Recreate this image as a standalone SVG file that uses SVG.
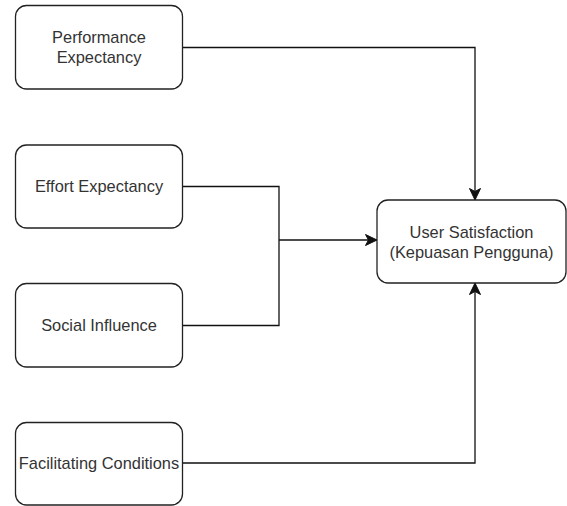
<svg xmlns="http://www.w3.org/2000/svg" width="567" height="506" viewBox="0 0 567 506">
  <style>
    .box { fill: #ffffff; stroke: #222222; stroke-width: 1.3; }
    .lbl { font-family: "Liberation Sans", Arial, sans-serif; font-size: 16.4px; fill: #333333; text-anchor: middle; }
    .edge { fill: none; stroke: #111111; stroke-width: 1.3; }
  </style>
  <defs>
    <marker id="arrow" markerUnits="userSpaceOnUse" markerWidth="14" markerHeight="14" viewBox="0 0 14 14" refX="13" refY="7" orient="auto">
      <path d="M1.5,1.5 L13,7 L1.5,12.5 L4.5,7 Z" fill="#111111" stroke="#111111" stroke-width="1"/>
    </marker>
  </defs>
  <rect width="567" height="506" fill="#ffffff"/>

  <g id="connectors">
    <path class="edge" d="M182.5,47.5 H475 V200" marker-end="url(#arrow)"/>
    <path class="edge" d="M182.5,186.5 H279 V325.5 H182.5"/>
    <path class="edge" d="M279,240 H377" marker-end="url(#arrow)"/>
    <path class="edge" d="M182.5,463 H475 V283" marker-end="url(#arrow)"/>
  </g>

  <g id="performance-expectancy">
    <rect class="box" x="15.5" y="5.5" width="167" height="83.5" rx="11"/>
    <text class="lbl" x="99" y="42.7">Performance</text>
    <text class="lbl" x="99" y="62.7">Expectancy</text>
  </g>

  <g id="effort-expectancy">
    <rect class="box" x="15.5" y="145" width="167" height="83" rx="11"/>
    <text class="lbl" x="99" y="192.3">Effort Expectancy</text>
  </g>

  <g id="social-influence">
    <rect class="box" x="15.5" y="283.5" width="167" height="83.5" rx="11"/>
    <text class="lbl" x="99" y="331">Social Influence</text>
  </g>

  <g id="facilitating-conditions">
    <rect class="box" x="15.5" y="422.5" width="167" height="82.5" rx="11"/>
    <text class="lbl" x="99" y="469">Facilitating Conditions</text>
  </g>

  <g id="user-satisfaction">
    <rect class="box" x="377" y="200" width="189" height="83" rx="11"/>
    <text class="lbl" x="471.5" y="237.7">User Satisfaction</text>
    <text class="lbl" x="471.5" y="257.7">(Kepuasan Pengguna)</text>
  </g>
</svg>
